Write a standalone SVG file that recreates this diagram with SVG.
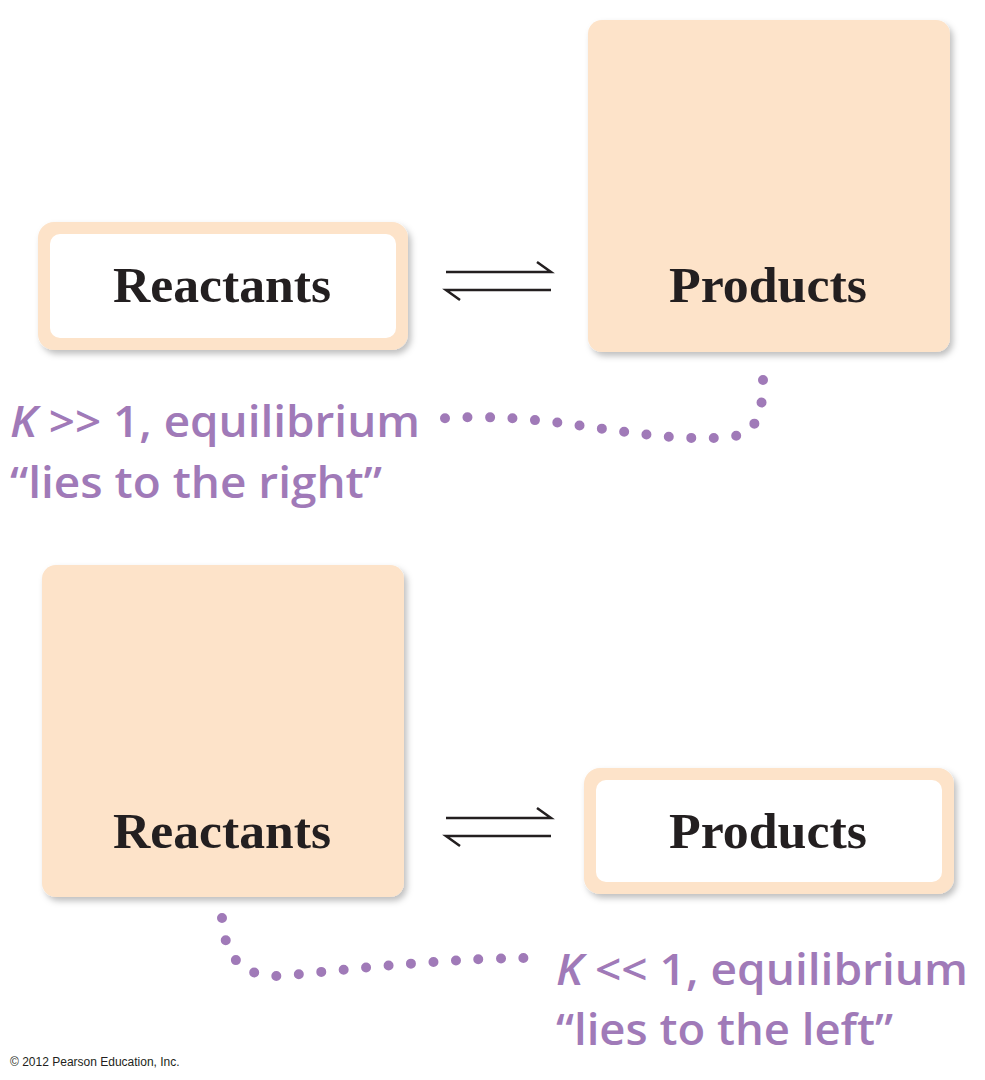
<svg xmlns="http://www.w3.org/2000/svg" width="985" height="1080" viewBox="0 0 985 1080">
<defs>
<filter id="sh" x="-10%" y="-10%" width="130%" height="130%"><feDropShadow dx="3" dy="4" stdDeviation="3" flood-color="#000" flood-opacity="0.25"/></filter>
<style>
.peach{fill:#fde3c9;filter:url(#sh)}
.white{fill:#fff}
.nt{font-family:"Liberation Serif",serif;font-weight:bold;font-size:50px;fill:#231f20;text-anchor:middle}
.lab{font-family:"Open Sans","Liberation Sans",sans-serif;font-weight:600;font-size:44px;fill:#a07ab8}
.dots{fill:none;stroke:#a07ab8;stroke-width:10;stroke-linecap:round;stroke-dasharray:0 22.5}
.arr{stroke:#231f20;stroke-width:2.5;fill:none}
</style>
</defs>
<g id="reactants-top"><rect class="peach" x="38" y="222" width="370" height="128" rx="16"/><rect class="white" x="50" y="234" width="346" height="104" rx="10"/><text class="nt" x="222" y="302" textLength="218" lengthAdjust="spacingAndGlyphs">Reactants</text></g>
<g id="products-top"><rect class="peach" x="588" y="20" width="362" height="332" rx="14"/><text class="nt" x="768" y="302" textLength="198" lengthAdjust="spacingAndGlyphs">Products</text></g>
<g id="reactants-bottom"><rect class="peach" x="42" y="565" width="362" height="332" rx="14"/><text class="nt" x="222" y="848" textLength="218" lengthAdjust="spacingAndGlyphs">Reactants</text></g>
<g id="products-bottom"><rect class="peach" x="584" y="768" width="370" height="126" rx="16"/><rect class="white" x="596" y="780" width="346" height="102" rx="10"/><text class="nt" x="768" y="848" textLength="198" lengthAdjust="spacingAndGlyphs">Products</text></g>
<g id="connectors">
<path class="arr" d="M446,272 H551 L537,262 M551,290 H446 L460,300"/>
<path class="arr" d="M446,818 H551 L537,808 M551,836 H446 L460,846"/>
<path class="dots" d="M763,380 C763,440 740,438 700,438 C620,438 540,410 436,419"/>
<path class="dots" d="M222,918 C226,975 260,980 300,974 C380,966 460,958 532,958"/>
</g>
<g id="label-top"><text class="lab" x="10" y="437" textLength="410" lengthAdjust="spacingAndGlyphs"><tspan font-style="italic">K</tspan> &gt;&gt; 1, equilibrium</text><text class="lab" x="10" y="498" textLength="372" lengthAdjust="spacingAndGlyphs">“lies to the right”</text></g>
<g id="label-bottom"><text class="lab" x="556" y="985" textLength="412" lengthAdjust="spacingAndGlyphs"><tspan font-style="italic">K</tspan> &lt;&lt; 1, equilibrium</text><text class="lab" x="556" y="1045" textLength="337" lengthAdjust="spacingAndGlyphs">“lies to the left”</text></g>
<text x="10" y="1066" font-family="Liberation Sans,sans-serif" font-size="12" fill="#231f20">© 2012 Pearson Education, Inc.</text>
</svg>
